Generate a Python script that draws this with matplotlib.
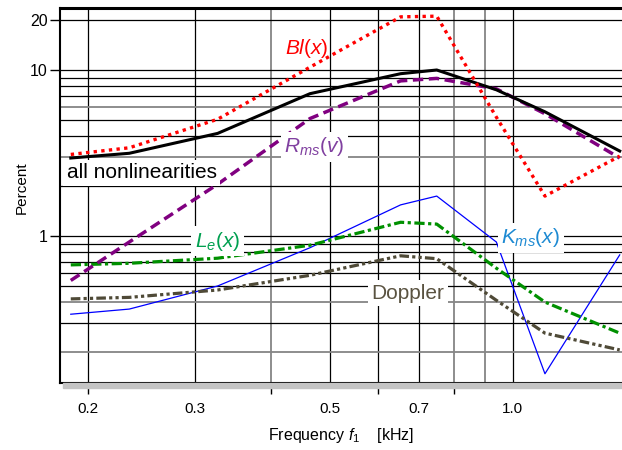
import matplotlib
matplotlib.use("Agg")
import matplotlib.pyplot as plt
from matplotlib.patches import Rectangle
from matplotlib.ticker import FixedLocator, NullLocator

plt.rcParams.update({
    "font.family": ["Liberation Sans", "DejaVu Sans"],
    "mathtext.fontset": "custom",
    "mathtext.rm": "Liberation Sans",
    "mathtext.it": "Liberation Sans:italic",
})

# ── Data (percent vs. frequency in kHz) ───────────────────────────────────────
freq = [0.1875, 0.234, 0.327, 0.464, 0.654, 0.75, 0.94, 1.13, 1.5]
all_nl = [2.95, 3.15, 4.15, 7.2, 9.5, 10.0, 7.6, 5.6, 3.25]
bl = [3.1, 3.4, 5.05, 10.4, 20.9, 21.1, 5.2, 1.74, 3.03]
rms = [0.54, 0.92, 2.05, 5.1, 8.6, 8.9, 7.7, 5.45, 2.95]
le = [0.67, 0.685, 0.735, 0.88, 1.21, 1.18, 0.64, 0.40, 0.26]
doppler = [0.418, 0.427, 0.473, 0.58, 0.76, 0.73, 0.41, 0.26, 0.206]
kms = [0.338, 0.363, 0.50, 0.85, 1.54, 1.74, 0.92, 0.148, 0.77]

x_labels = ["0.2", "0.3", "0.5", "0.7", "1.0"]
x_label_pos = [0.2, 0.3, 0.5, 0.7, 1.0]
x_tick_pos = [0.2, 0.4, 0.6, 0.8]
x_grid = [0.2, 0.3, 0.4, 0.5, 0.6, 0.7, 0.8, 0.9, 1.0]
y_grid = [0.2, 0.3, 0.4, 0.5, 0.6, 0.7, 0.8, 0.9,
          1, 2, 3, 4, 5, 6, 7, 8, 9, 10, 20]
y_ticks = [1, 10, 20]

GRAY_X = {0.4, 0.8, 0.9}
GRAY_Y = {0.2, 0.4, 3, 6}

fig = plt.figure(figsize=(6.22, 4.5), dpi=100)
ax = fig.add_axes([60 / 622, 1 - 383 / 450, 1 - 60 / 622, (383 - 8) / 450])

# drop shadow under the bottom spine
fig.patches.append(Rectangle((63 / 622, 1 - 388 / 450), 1, 5 / 450,
                             transform=fig.transFigure, color="#c4c4c4",
                             zorder=0))

ax.set_xscale("log")
ax.set_yscale("log")
ax.set_xlim(0.18, 1.513)
ax.set_ylim(0.1302, 23.63)

for v in x_grid:
    gray = v in GRAY_X
    ax.axvline(v, color="#858585" if gray else "black",
               lw=1.3 if gray else 0.9, zorder=1)
for v in y_grid:
    gray = v in GRAY_Y
    ax.axhline(v, color="#858585" if gray else "black",
               lw=1.3 if gray else 0.9, zorder=1)

ax.plot(freq, kms, color="#0000ff", lw=0.9, zorder=3)
ax.plot(freq, doppler, color="#4f4a37", lw=2.3,
        linestyle=(0, (3, 1, 1, 1, 1, 1)), zorder=3)
ax.plot(freq, le, color="#009000", lw=2.3,
        linestyle=(0, (3.2, 1.1, 1, 1.1)), zorder=3)
ax.plot(freq, rms, color="#800080", lw=2.5,
        linestyle=(0, (3, 1.6)), zorder=4)
ax.plot(freq, all_nl, color="black", lw=2.2, zorder=4)
ax.plot(freq, bl, color="#ff0000", lw=2.4,
        linestyle=(0, (1, 1.3)), zorder=5)

box = dict(facecolor="white", edgecolor="none", pad=2.5)
ax.text(0.1845, 2.41, "all nonlinearities", fontsize=15, color="black",
        ha="left", va="center", bbox=box, zorder=6)
ax.text(0.459, 13.5, "$Bl(x)$", fontsize=15, color="#ff0000",
        ha="center", va="center", zorder=6)
ax.text(0.472, 3.44, "$R_{ms}(v)$", fontsize=15, color="#8040a0",
        ha="center", va="center", bbox=box, zorder=6)
ax.text(0.327, 0.933, "$L_e(x)$", fontsize=15, color="#00a050",
        ha="center", va="center", bbox=box, zorder=6)
ax.text(1.07, 0.973, "$K_{ms}(x)$", fontsize=15, color="#1e8ad2",
        ha="center", va="center", bbox=box, zorder=6)
ax.text(0.672, 0.453, "Doppler", fontsize=15, color="#5a5341",
        ha="center", va="center", bbox=box, zorder=6)

# ticks
ax.xaxis.remove_overlapping_locs = False
ax.xaxis.set_major_locator(FixedLocator(x_label_pos))
ax.set_xticklabels(x_labels)
ax.xaxis.set_minor_locator(FixedLocator(x_tick_pos))
ax.xaxis.set_minor_formatter(plt.NullFormatter())
ax.tick_params(axis="x", which="major", length=0, pad=14, labelsize=11)
ax.tick_params(axis="x", which="minor", length=8, width=1, direction="out")

ax.yaxis.set_major_locator(FixedLocator(y_ticks))
ax.set_yticklabels([str(v) for v in y_ticks])
ax.yaxis.set_minor_locator(NullLocator())
ax.tick_params(axis="y", which="major", length=7, width=1, pad=2,
               labelsize=11.5)

ax.set_xlabel("Frequency $f_1$    [kHz]", fontsize=11.5, labelpad=7)
ax.set_ylabel("Percent", fontsize=11)
ax.yaxis.set_label_coords(-0.055, 0.52)

for side in ("left", "bottom"):
    ax.spines[side].set_linewidth(1.5)
ax.spines["top"].set_linewidth(2.2)
ax.spines["right"].set_visible(False)

fig.savefig("out.png", dpi=100)
